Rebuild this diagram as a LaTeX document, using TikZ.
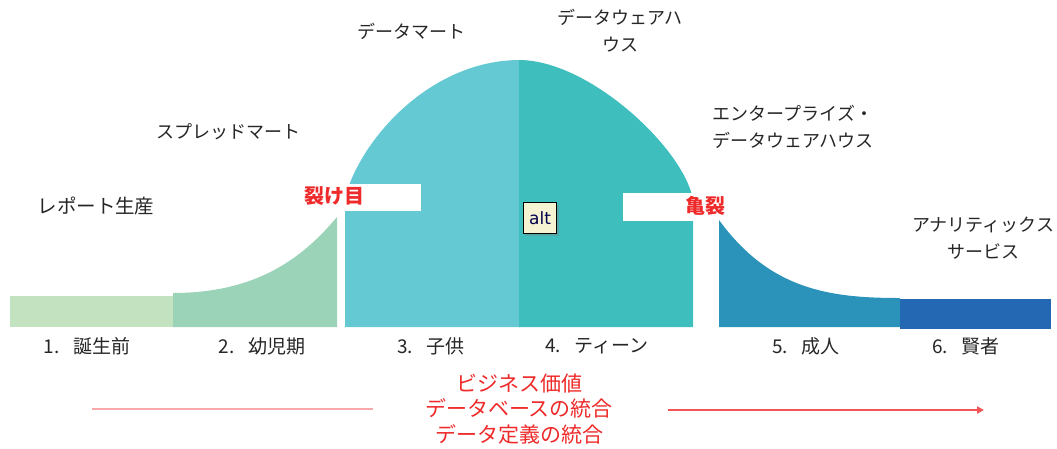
\documentclass[tikz,border=0pt]{standalone}
\usepackage{fontspec}
\newfontfamily\jp{Noto Sans CJK JP}
\usetikzlibrary{arrows.meta,shadows}
\definecolor{cA}{HTML}{C3E2C0}
\definecolor{cB}{HTML}{9AD3B8}
\definecolor{cC}{HTML}{65C9D4}
\definecolor{cD}{HTML}{3EBEBD}
\definecolor{cE}{HTML}{2B92BA}
\definecolor{cF}{HTML}{2468B4}
\definecolor{redt}{HTML}{EE2A2A}
\definecolor{tipfill}{HTML}{F6F3D2}
\begin{document}
\begin{tikzpicture}[x=1pt,y=-1pt,
  lbl/.style={font=\jp\fontsize{18}{27}\selectfont, text=black!85, align=center, inner sep=0pt},
  stage/.style={font=\jp\fontsize{19}{22}\selectfont, text=black!85, inner sep=0pt},
  redlbl/.style={font=\jp\bfseries\fontsize{20}{22}\selectfont, text=redt, inner sep=0pt},
  redmid/.style={font=\jp\fontsize{21}{25.5}\selectfont, text=redt, align=center, inner sep=0pt}]
\path[use as bounding box] (0,0) rectangle (1057,448);
% shapes
\fill[cA] (10,296) rectangle (173,327);
\fill[cB] (173,327) -- (173,293) .. controls (260,293) and (305,255) .. (337,217) -- (337,327) -- cycle;
\fill[cC] (345,327) -- (345,198) .. controls (360,140) and (430,60) .. (520,60) -- (520,327) -- cycle;
\fill[cD] (519,327) -- (519,60) .. controls (590,60) and (685,150) .. (693,200) -- (693,327) -- cycle;
\fill[cE] (719,327) -- (719,220) .. controls (770,290) and (830,298) .. (900,298) -- (900,327) -- cycle;
\fill[cF] (900,299) rectangle (1051,329);
% white label boxes
\fill[white] (300,184) rectangle (421,211);
\fill[white] (623,193) rectangle (718,221);
\node[redlbl] (crack1) at (334,196) {裂け目};
\node[redlbl] (crack2) at (705,206) {亀裂};
% alt icon
\node[draw=black, line width=1.5pt, fill=tipfill, minimum width=33pt, minimum height=31pt, inner sep=0pt,
  drop shadow={shadow xshift=2pt, shadow yshift=-2pt, opacity=0.35},
  font=\fontspec{DejaVu Sans}\fontsize{17}{17}\selectfont, text=black!70!blue] (alt) at (540,218) {alt};
% top labels
\node[lbl, font=\jp\fontsize{19.5}{27}\selectfont] (l1) at (96,206) {レポート生産};
\node[lbl] (l2) at (228,132) {スプレッドマート};
\node[lbl] (l3) at (411,31) {データマート};
\node[lbl] (l4) at (620,31) {データウェアハ\\ウス};
\node[lbl] (l5) at (793,127) {エンタープライズ・\\データウェアハウス};
\node[lbl] (l6) at (983,238) {アナリティックス\\サービス};
% stage labels
\node[stage] (s1) at (87,346) {1.\hspace{14pt}誕生前};
\node[stage] (s2) at (262,346) {2.\hspace{14pt}幼児期};
\node[stage] (s3) at (431,346) {3.\hspace{14pt}子供};
\node[stage] (s4) at (597,346) {4.\hspace{14pt}ティーン};
\node[stage] (s5) at (806,346) {5.\hspace{14pt}成人};
\node[stage] (s6) at (966,346) {6.\hspace{14pt}賢者};
% bottom
\node[redmid] (mid) at (519,409) {ビジネス価値\\データベースの統合\\データ定義の統合};
\coordinate (a1) at (92,409);
\coordinate (a2) at (373,409);
\coordinate (b1) at (668,410);
\coordinate (b2) at (984,410);
\draw[redt!40, line width=2.5pt] (a1) -- (a2);
\draw[redt!80, line width=2.2pt, -{Triangle[length=7pt,width=7pt]}] (b1) -- (b2);
\end{tikzpicture}
\end{document}
